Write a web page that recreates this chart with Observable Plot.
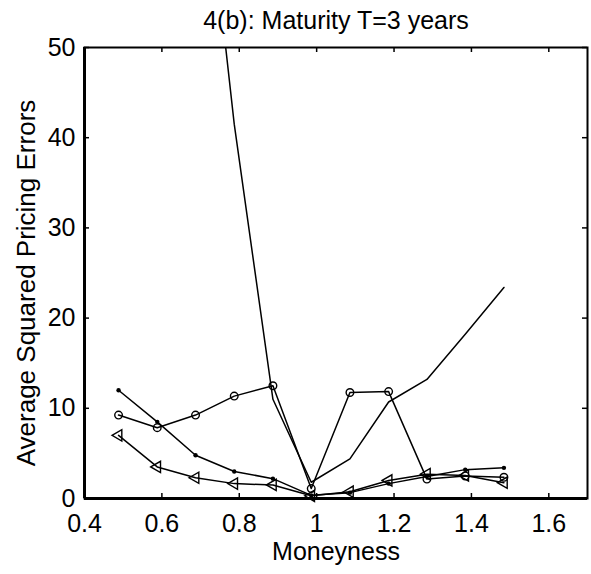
<!DOCTYPE html>
<html><head><meta charset="utf-8">
<script src="https://cdn.jsdelivr.net/npm/d3@7"></script>
<script src="https://cdn.jsdelivr.net/npm/@observablehq/plot@0.6"></script>
<style>body{margin:0;background:#fff}</style>
</head><body><div id="chart"></div>
<script>
const titleText = "4(b): Maturity T=3 years";
const xLabel = "Moneyness";
const yLabel = "Average Squared Pricing Errors";
const xTicks = [0.4, 0.6, 0.8, 1, 1.2, 1.4, 1.6];
const yTicks = [0, 10, 20, 30, 40, 50];
const moneyness = [0.488, 0.588, 0.687, 0.787, 0.887, 0.986, 1.086, 1.186, 1.285, 1.384, 1.484];
const dotSeries = [12.0, 8.5, 4.8, 3.0, 2.2, 0.35, 0.65, 1.65, 2.45, 3.2, 3.4];
const circleSeries = [9.25, 7.85, 9.25, 11.35, 12.5, 1.1, 11.75, 11.85, 2.15, 2.5, 2.35];
const triangleSeries = [7.0, 3.5, 2.3, 1.65, 1.5, 0.3, 0.75, 2.0, 2.7, 2.55, 1.75];
const plainSeries = [null, null, 80, 41.5, 11.0, 1.8, 4.4, 10.7, 13.2, 18.2, 23.4];

const W = 591, H = 574, mt = 47, mb = 76, ml = 84, mr = 4;
const plotW = W - ml - mr, plotH = H - mt - mb, tick = 5;
const rows = (vals) => moneyness.map((x, i) => ({x, y: vals[i]})).filter(d => d.y != null);
const dots = rows(dotSeries), circles = rows(circleSeries), tris = rows(triangleSeries), plain = rows(plainSeries);
const lineOpts = {x: "x", y: "y", stroke: "black", strokeWidth: 1.5};

const chart = Plot.plot({
  width: W, height: H,
  marginTop: mt, marginBottom: mb, marginLeft: ml, marginRight: mr,
  style: {fontFamily: "'Liberation Sans', Arial, sans-serif", fontSize: "25px", background: "white", color: "black"},
  x: {domain: [0.4, 1.7]},
  y: {domain: [0, 50]},
  marks: [
    Plot.line(plain, {...lineOpts, clip: true}),
    Plot.line(dots, lineOpts),
    Plot.line(circles, lineOpts),
    Plot.line(tris, lineOpts),
    Plot.dot(dots, {x: "x", y: "y", r: 2.2, fill: "black"}),
    Plot.dot(circles, {x: "x", y: "y", r: 3.8, stroke: "black", strokeWidth: 1.4, fill: "none"}),
    Plot.dot(tris, {x: "x", y: "y", r: 4.2, symbol: "triangle", rotate: -90, stroke: "black", strokeWidth: 1.4, fill: "none"}),
    Plot.frame({stroke: "black", strokeWidth: 2}),
    Plot.ruleX([xTicks[0]], {x: d => d, stroke: "black", strokeWidth: 3}),
    Plot.ruleY([yTicks[0]], {y: d => d, stroke: "black", strokeWidth: 3}),
    Plot.ruleX(xTicks, {x: d => d, insetTop: plotH - tick, stroke: "black", strokeWidth: 1.5}),
    Plot.ruleX(xTicks, {x: d => d, insetBottom: plotH - tick, stroke: "black", strokeWidth: 1.5}),
    Plot.ruleY(yTicks, {y: d => d, insetRight: plotW - tick, stroke: "black", strokeWidth: 1.5}),
    Plot.ruleY(yTicks, {y: d => d, insetLeft: plotW - tick, stroke: "black", strokeWidth: 1.5}),
    Plot.axisX(xTicks, {tickSize: 0, tickPadding: 16, label: null, tickFormat: d => String(d)}),
    Plot.axisY(yTicks, {tickSize: 0, tickPadding: 9, label: null, tickFormat: d => String(d)}),
    Plot.text([titleText], {text: d => d, frameAnchor: "top", textAnchor: "middle", lineAnchor: "middle", dy: -27}),
    Plot.text([yLabel], {text: d => d, frameAnchor: "left", textAnchor: "middle", rotate: -90, dx: -58, dy: 10, fontSize: 26}),
    Plot.text([xLabel], {text: d => d, frameAnchor: "bottom", textAnchor: "middle", lineAnchor: "middle", dy: 53})
  ]
});
document.getElementById("chart").appendChild(chart);
</script></body></html>
